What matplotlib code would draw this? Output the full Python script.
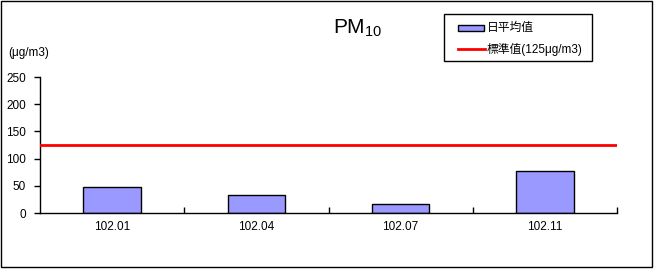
import matplotlib
matplotlib.use('Agg')
import matplotlib.pyplot as plt
from matplotlib.patches import Rectangle
from matplotlib.lines import Line2D

plt.rcParams['font.family'] = ['Liberation Sans', 'Noto Sans CJK TC', 'DejaVu Sans']
plt.rcParams['mathtext.fontset'] = 'custom'
plt.rcParams['mathtext.rm'] = 'Liberation Sans'
plt.rcParams['mathtext.it'] = 'Liberation Sans'

# Data
periods = ['102.01', '102.04', '102.07', '102.11']
daily_avg = [47, 33, 16, 77]
standard = 125
y_ticks = [0, 50, 100, 150, 200, 250]
bar_label = '日平均值'
line_label = '標準值(125μg/m3)'

W, H = 654, 269
BAR_COLOR = '#9999ff'
LINE_COLOR = '#ff0000'


def fx(px):
    return px / W


def fy(py):
    return 1 - py / H


fig = plt.figure(figsize=(W / 100, H / 100), dpi=100)

# outer frame
fig.patches.append(Rectangle((fx(1), fy(267)), 651 / W, 266 / H, transform=fig.transFigure,
                             fill=False, edgecolor='black', linewidth=1))

ax = fig.add_axes([fx(40), fy(213), 577 / W, 136 / H])
x = list(range(len(periods)))
ax.bar(x, daily_avg, width=0.4, color=BAR_COLOR, edgecolor='black', linewidth=1, zorder=2)
ax.axhline(standard, color=LINE_COLOR, linewidth=2, zorder=3)

ax.set_xlim(-0.5, len(periods) - 0.5)
ax.set_ylim(0, 250)
ax.set_yticks(y_ticks)
ax.tick_params(axis='y', direction='out', length=4, width=1, labelsize=8.5, pad=6)

# boundaries between categories as inward ticks, labels centred on bars
ax.set_xticks([i + 0.5 for i in x])
ax.set_xticklabels([])
ax.tick_params(axis='x', which='major', direction='in', length=4, width=1)
ax.set_xticks(x, minor=True)
ax.set_xticklabels(periods, minor=True)
ax.tick_params(axis='x', which='minor', length=0, labelsize=8.5, pad=6)

for s in ['top', 'right']:
    ax.spines[s].set_visible(False)
for s in ['left', 'bottom']:
    ax.spines[s].set_linewidth(1)

fig.text(fx(333), fy(34), 'PM$_{10}$', fontsize=15, va='baseline', ha='left')
fig.text(fx(8), fy(53), '(μg/m3)', fontsize=8.5, va='center', ha='left')

# legend box drawn by hand to match the original placement
fig.patches.append(Rectangle((fx(444), fy(61)), 148 / W, 47 / H, transform=fig.transFigure,
                             facecolor='white', edgecolor='black', linewidth=1, zorder=5))
fig.patches.append(Rectangle((fx(458), fy(30.5)), 26 / W, 6 / H, transform=fig.transFigure,
                             facecolor=BAR_COLOR, edgecolor='black', linewidth=1, zorder=6))
fig.lines.append(Line2D([fx(458), fx(485)], [fy(49), fy(49)], transform=fig.transFigure,
                        color=LINE_COLOR, linewidth=2, zorder=6))
fig.text(fx(487), fy(28), bar_label, fontsize=8.5, va='center', ha='left', zorder=7)
fig.text(fx(487), fy(49), line_label, fontsize=8.5, va='center', ha='left', zorder=7)

fig.savefig('out.png', dpi=100)
